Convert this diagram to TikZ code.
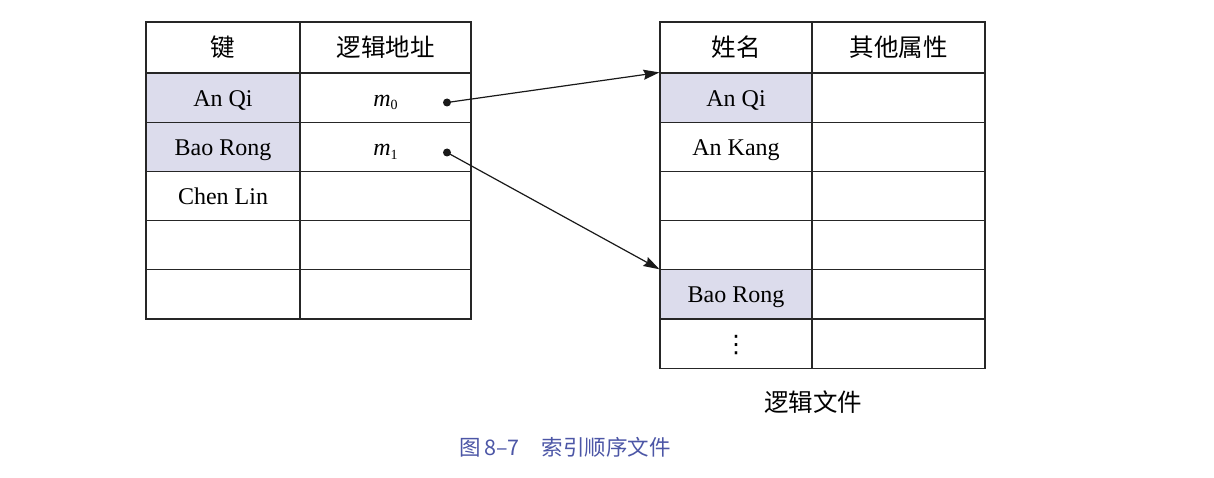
\documentclass[tikz,border=0pt]{standalone}
\usepackage{fontspec}
\setmainfont{Liberation Serif}
\newfontfamily\cjk{Noto Sans CJK SC}
\newfontfamily\djv{DejaVu Sans}
\usetikzlibrary{arrows.meta}
\definecolor{keyfill}{RGB}{220,220,236}
\definecolor{capblue}{RGB}{76,86,166}
\begin{document}
\begin{tikzpicture}[x=1pt,y=-1pt,
  cellbase/.style={draw=black!85,line width=1.1pt,minimum height=49.2pt,inner sep=0pt,text height=17pt,text depth=0pt,font=\fontsize{24}{26}\selectfont},
  cellL/.style={cellbase,minimum width=154pt},
  cellR/.style={cellbase,minimum width=171pt},
  cellRA/.style={cellbase,minimum width=152pt},
  cellRB/.style={cellbase,minimum width=173pt},
  hdr/.style={minimum height=51pt,text height=19pt,text depth=0pt,font=\cjk\fontsize{24.5}{26}\selectfont},
  key/.style={fill=keyfill},
  ptr/.style={line width=1.2pt,draw=black!90,-{Stealth[length=16pt,width=10pt,inset=2pt]}},
  dotc/.style={circle,fill=black!90,inner sep=0pt,minimum size=8pt}
]
\useasboundingbox (0,0) rectangle (1214,478);
% left table
\node[cellL,hdr] (lh1) at (223,47.5) {键};
\node[cellR,hdr] (lh2) at (385.5,47.5) {逻辑地址};
\node[cellL,key] (l11) at (223,97.6) {An Qi};
\node[cellR] (l12) at (385.5,97.6) {\textit{m}\raisebox{-0.35ex}{\fontsize{14}{14}\selectfont 0}};
\node[cellL,key] (l21) at (223,146.8) {Bao Rong};
\node[cellR] (l22) at (385.5,146.8) {\textit{m}\raisebox{-0.35ex}{\fontsize{14}{14}\selectfont 1}};
\node[cellL] (l31) at (223,196) {Chen Lin};
\node[cellR] (l32) at (385.5,196) {};
\node[cellL] (l41) at (223,245.2) {};
\node[cellR] (l42) at (385.5,245.2) {};
\node[cellL] (l51) at (223,294.4) {};
\node[cellR] (l52) at (385.5,294.4) {};
% right table
\node[cellRA,hdr] (rh1) at (736,47.5) {姓名};
\node[cellRB,hdr] (rh2) at (898.5,47.5) {其他属性};
\node[cellRA,key] (r11) at (736,97.6) {An Qi};
\node[cellRB] (r12) at (898.5,97.6) {};
\node[cellRA] (r21) at (736,146.8) {An Kang};
\node[cellRB] (r22) at (898.5,146.8) {};
\node[cellRA] (r31) at (736,196) {};
\node[cellRB] (r32) at (898.5,196) {};
\node[cellRA] (r41) at (736,245.2) {};
\node[cellRB] (r42) at (898.5,245.2) {};
\node[cellRA,key] (r51) at (736,294.4) {Bao Rong};
\node[cellRB] (r52) at (898.5,294.4) {};
\node[cellRA,font=\djv\fontsize{24}{26}\selectfont] (r61) at (736,343.6) {⋮};
\node[cellRB] (r62) at (898.5,343.6) {};
% labels
\node[font=\cjk\fontsize{24.5}{26}\selectfont] (lf) at (813,402) {逻辑文件};
\node[font=\cjk\fontsize{21.5}{23}\selectfont,text=capblue] (cap) at (565,447) {图\,8–7\hspace{22pt}索引顺序文件};
% pointers
\node[dotc] (d0) at (447,102.5) {};
\node[dotc] (d1) at (447,152.5) {};
\draw[ptr] (d0.center) -- (r11.north west);
\draw[ptr] (d1.center) -- (r51.north west);
\end{tikzpicture}
\end{document}
